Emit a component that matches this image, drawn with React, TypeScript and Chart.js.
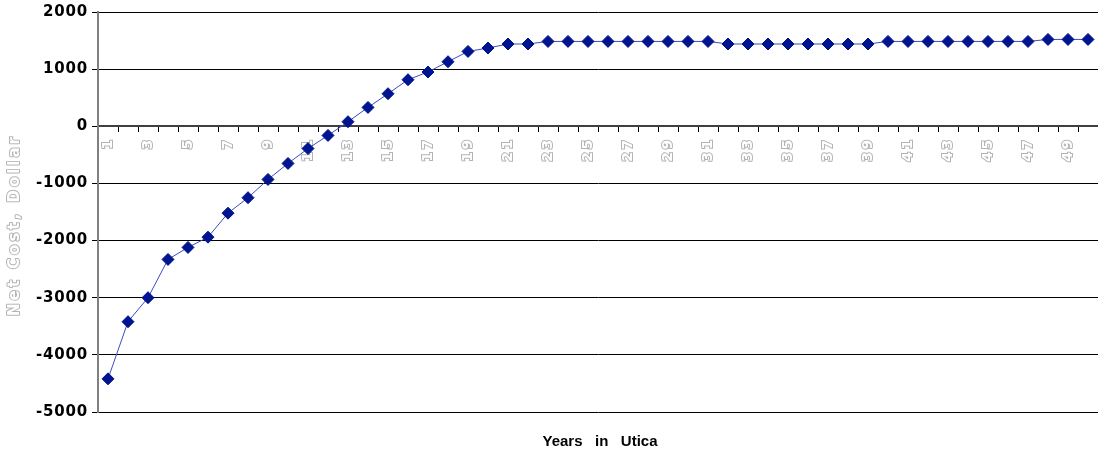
import { useEffect, useRef } from 'react';
import { Chart, registerables } from 'chart.js';

Chart.register(...registerables);

// Years of residence (categories on the x axis)
const years: string[] = [
  '1', '2', '3', '4', '5', '6', '7', '8', '9', '10',
  '11', '12', '13', '14', '15', '16', '17', '18', '19', '20',
  '21', '22', '23', '24', '25', '26', '27', '28', '29', '30',
  '31', '32', '33', '34', '35', '36', '37', '38', '39', '40',
  '41', '42', '43', '44', '45', '46', '47', '48', '49', '50',
];

// Cumulative net cost in dollars for each year
const netCost: number[] = [
  -4420, -3420, -3000, -2330, -2120, -1940, -1520, -1250, -930, -650,
  -390, -160, 80, 330, 570, 815, 950, 1130, 1310, 1370,
  1440, 1440, 1485, 1485, 1485, 1485, 1485, 1485, 1485, 1485,
  1485, 1440, 1440, 1440, 1440, 1440, 1440, 1440, 1440, 1485,
  1485, 1485, 1485, 1485, 1485, 1485, 1485, 1520, 1520, 1520,
];

const yMin = -5000;
const yMax = 2000;
const yStep = 1000;

const yTitle = 'Net Cost, Dollar';
const xTitle = 'Years   in   Utica';

// Adds tracking to the tick labels of the two axes
const labelSpacing = {
  id: 'labelSpacing',
  beforeDraw(chart: any) {
    const spacing: [string, string][] = [['x', '2.5px'], ['y', '0.8px']];
    for (const [id, sp] of spacing) {
      const s: any = chart.scales[id];
      if (!s || s._spaced) continue;
      const orig = s.drawLabels.bind(s);
      s.drawLabels = (area: any) => {
        const ctx = chart.ctx;
        ctx.save();
        ctx.letterSpacing = sp;
        orig(area);
        ctx.restore();
      };
      s._spaced = true;
    }
  },
};

// Axis titles: hollow grey vertical title and bold bottom title
const axisTitles = {
  id: 'axisTitles',
  afterDraw(chart: any) {
    const ctx = chart.ctx;
    ctx.save();
    ctx.translate(15, 225);
    ctx.rotate(-Math.PI / 2);
    ctx.font = 'bold 15px "DejaVu Sans"';
    ctx.letterSpacing = '3px';
    ctx.textAlign = 'center';
    ctx.textBaseline = 'middle';
    ctx.lineJoin = 'round';
    ctx.lineWidth = 2;
    ctx.strokeStyle = '#b4b4b4';
    ctx.strokeText(yTitle, 0, 0);
    ctx.fillStyle = '#ffffff';
    ctx.fillText(yTitle, 0, 0);
    ctx.restore();

    ctx.save();
    ctx.font = 'bold 15px "Liberation Sans"';
    ctx.fillStyle = '#000000';
    ctx.textAlign = 'center';
    ctx.textBaseline = 'middle';
    const { left, right } = chart.chartArea;
    ctx.fillText(xTitle, (left + right) / 2 + 2, 442);
    ctx.restore();
  },
};

export default function App() {
  const canvasRef = useRef<HTMLCanvasElement | null>(null);

  useEffect(() => {
    if (!canvasRef.current) return;
    const chart = new Chart(canvasRef.current, {
      type: 'line',
      data: {
        labels: years,
        datasets: [
          {
            label: 'Net cost',
            data: netCost,
            borderColor: '#3a4cc0',
            borderWidth: 1,
            backgroundColor: '#001490',
            pointStyle: 'rectRot',
            pointRadius: 6,
            pointBackgroundColor: '#001490',
            pointBorderColor: '#001490',
            pointBorderWidth: 1,
            tension: 0,
            fill: false,
          },
        ],
      },
      options: {
        animation: false,
        responsive: true,
        maintainAspectRatio: false,
        layout: { autoPadding: false, padding: { top: 12, bottom: 45, left: 0, right: 0 } },
        plugins: {
          legend: { display: false },
          tooltip: { enabled: false },
        },
        scales: {
          x: {
            type: 'category',
            position: { y: 0 } as any,
            offset: true,
            grid: {
              offset: true,
              drawOnChartArea: false,
              drawTicks: true,
              tickLength: 5,
              color: '#000000',
              lineWidth: 1,
            },
            border: { display: true, color: '#404040', width: 2 },
            ticks: {
              autoSkip: false,
              maxRotation: 90,
              minRotation: 90,
              padding: 6,
              color: '#ffffff',
              textStrokeColor: '#b4b4b4',
              textStrokeWidth: 2,
              font: { family: '"DejaVu Sans"', weight: 'bold', size: 14 },
              callback: (_v: any, i: number) => (i % 2 === 0 ? years[i] : ''),
            },
            afterFit: (s: any) => {
              s.paddingLeft = 0;
              s.paddingRight = 0;
            },
          },
          y: {
            min: yMin,
            max: yMax,
            grid: { color: '#000000', lineWidth: 1, tickLength: 6 },
            border: { display: true, color: '#808080', width: 2 },
            ticks: {
              stepSize: yStep,
              padding: 4,
              color: '#000000',
              font: { family: '"DejaVu Sans"', weight: 'bold', size: 15 },
              callback: (v: any) => String(v),
            },
            afterFit: (s: any) => {
              s.width = 98;
              s.paddingTop = 0;
              s.paddingBottom = 0;
            },
          },
        },
      },
      plugins: [labelSpacing, axisTitles],
    });
    return () => chart.destroy();
  }, []);

  return (
    <div style={{ position: 'fixed', left: 0, top: 0, width: 1098, height: 457, background: '#fff' }}>
      <canvas ref={canvasRef} />
    </div>
  );
}
